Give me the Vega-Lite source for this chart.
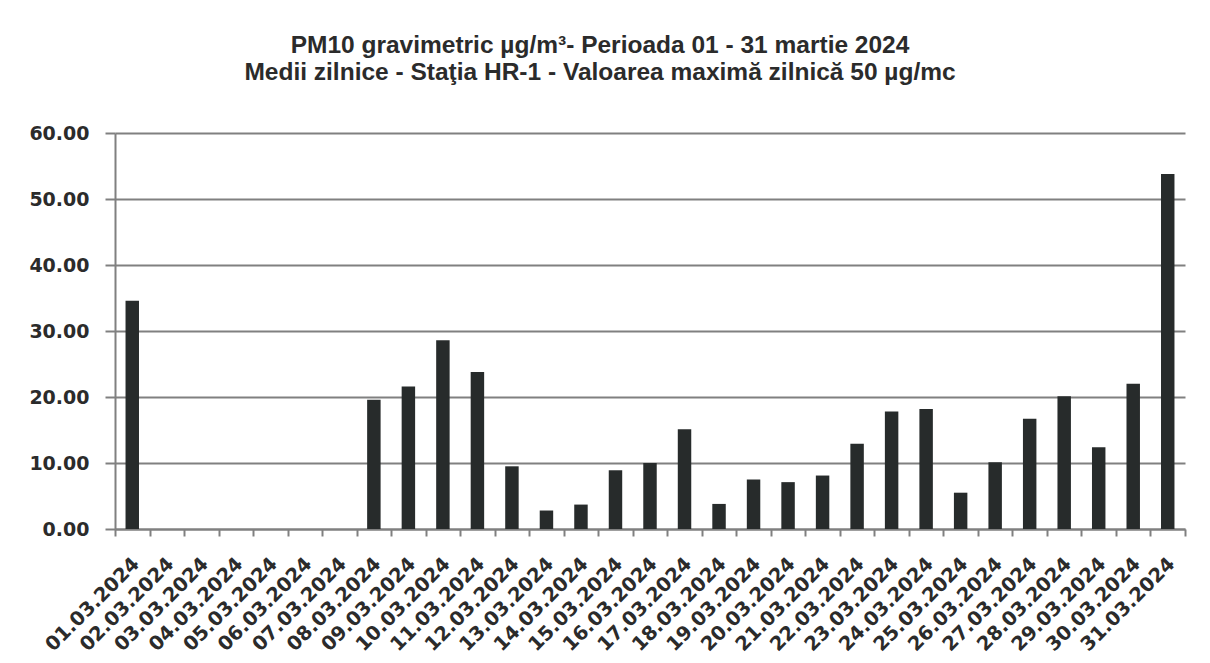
{
  "$schema": "https://vega.github.io/schema/vega-lite/v6.json",
  "width": 1070,
  "height": 396,
  "autosize": {"type": "none"},
  "padding": {"left": 115, "top": 133, "right": 25, "bottom": 134},
  "background": "#ffffff",
  "config": {"view": {"stroke": null}},
  "title": {
    "text": ["PM10 gravimetric µg/m³- Perioada 01 - 31 martie  2024", "Medii zilnice - Staţia HR-1 -  Valoarea maximă zilnică 50 µg/mc"],
    "anchor": "middle",
    "dx": -50,
    "offset": 39,
    "font": "Liberation Sans",
    "fontSize": 24.5,
    "fontWeight": "bold",
    "color": "#2b2b2b",
    "lineHeight": 27
  },
  "data": {
    "values": [
      {"data": "01.03.2024", "pm10": 34.6},
      {"data": "02.03.2024", "pm10": null},
      {"data": "03.03.2024", "pm10": null},
      {"data": "04.03.2024", "pm10": null},
      {"data": "05.03.2024", "pm10": null},
      {"data": "06.03.2024", "pm10": null},
      {"data": "07.03.2024", "pm10": null},
      {"data": "08.03.2024", "pm10": 19.6},
      {"data": "09.03.2024", "pm10": 21.6},
      {"data": "10.03.2024", "pm10": 28.6},
      {"data": "11.03.2024", "pm10": 23.8},
      {"data": "12.03.2024", "pm10": 9.5},
      {"data": "13.03.2024", "pm10": 2.8},
      {"data": "14.03.2024", "pm10": 3.7},
      {"data": "15.03.2024", "pm10": 8.9},
      {"data": "16.03.2024", "pm10": 10.0},
      {"data": "17.03.2024", "pm10": 15.1},
      {"data": "18.03.2024", "pm10": 3.8},
      {"data": "19.03.2024", "pm10": 7.5},
      {"data": "20.03.2024", "pm10": 7.1},
      {"data": "21.03.2024", "pm10": 8.1},
      {"data": "22.03.2024", "pm10": 12.9},
      {"data": "23.03.2024", "pm10": 17.8},
      {"data": "24.03.2024", "pm10": 18.2},
      {"data": "25.03.2024", "pm10": 5.5},
      {"data": "26.03.2024", "pm10": 10.1},
      {"data": "27.03.2024", "pm10": 16.7},
      {"data": "28.03.2024", "pm10": 20.1},
      {"data": "29.03.2024", "pm10": 12.4},
      {"data": "30.03.2024", "pm10": 22.0},
      {"data": "31.03.2024", "pm10": 53.8}
    ]
  },
  "mark": {"type": "bar", "color": "#272b2b", "width": {"band": 0.39}},
  "encoding": {
    "x": {
      "field": "data",
      "type": "ordinal",
      "sort": null,
      "scale": {
        "domain": ["01.03.2024","02.03.2024","03.03.2024","04.03.2024","05.03.2024","06.03.2024","07.03.2024","08.03.2024","09.03.2024","10.03.2024","11.03.2024","12.03.2024","13.03.2024","14.03.2024","15.03.2024","16.03.2024","17.03.2024","18.03.2024","19.03.2024","20.03.2024","21.03.2024","22.03.2024","23.03.2024","24.03.2024","25.03.2024","26.03.2024","27.03.2024","28.03.2024","29.03.2024","30.03.2024","31.03.2024"],
        "paddingInner": 0,
        "paddingOuter": 0
      },
      "axis": {
        "title": null,
        "grid": false,
        "tickBand": "extent",
        "tickSize": 7,
        "tickWidth": 2,
        "tickColor": "#808080",
        "domainColor": "#808080",
        "domainWidth": 2,
        "labelAngle": -45,
        "labelAlign": "right",
        "labelBaseline": "top",
        "labelPadding": 18,
        "labelOffset": -3,
        "labelOverlap": false,
        "labelFont": "DejaVu Sans",
        "labelFontSize": 19.5,
        "labelFontWeight": "bold",
        "labelColor": "#2b2b2b"
      }
    },
    "y": {
      "field": "pm10",
      "type": "quantitative",
      "scale": {"domain": [0, 60], "nice": false},
      "axis": {
        "title": null,
        "values": [0, 10, 20, 30, 40, 50, 60],
        "format": ".2f",
        "grid": true,
        "gridColor": "#808080",
        "gridWidth": 2,
        "tickSize": 10,
        "tickWidth": 2,
        "tickColor": "#808080",
        "domainColor": "#808080",
        "domainWidth": 2,
        "labelPadding": 16,
        "labelFont": "DejaVu Sans",
        "labelFontSize": 19,
        "labelFontWeight": "bold",
        "labelColor": "#2b2b2b"
      }
    }
  }
}
